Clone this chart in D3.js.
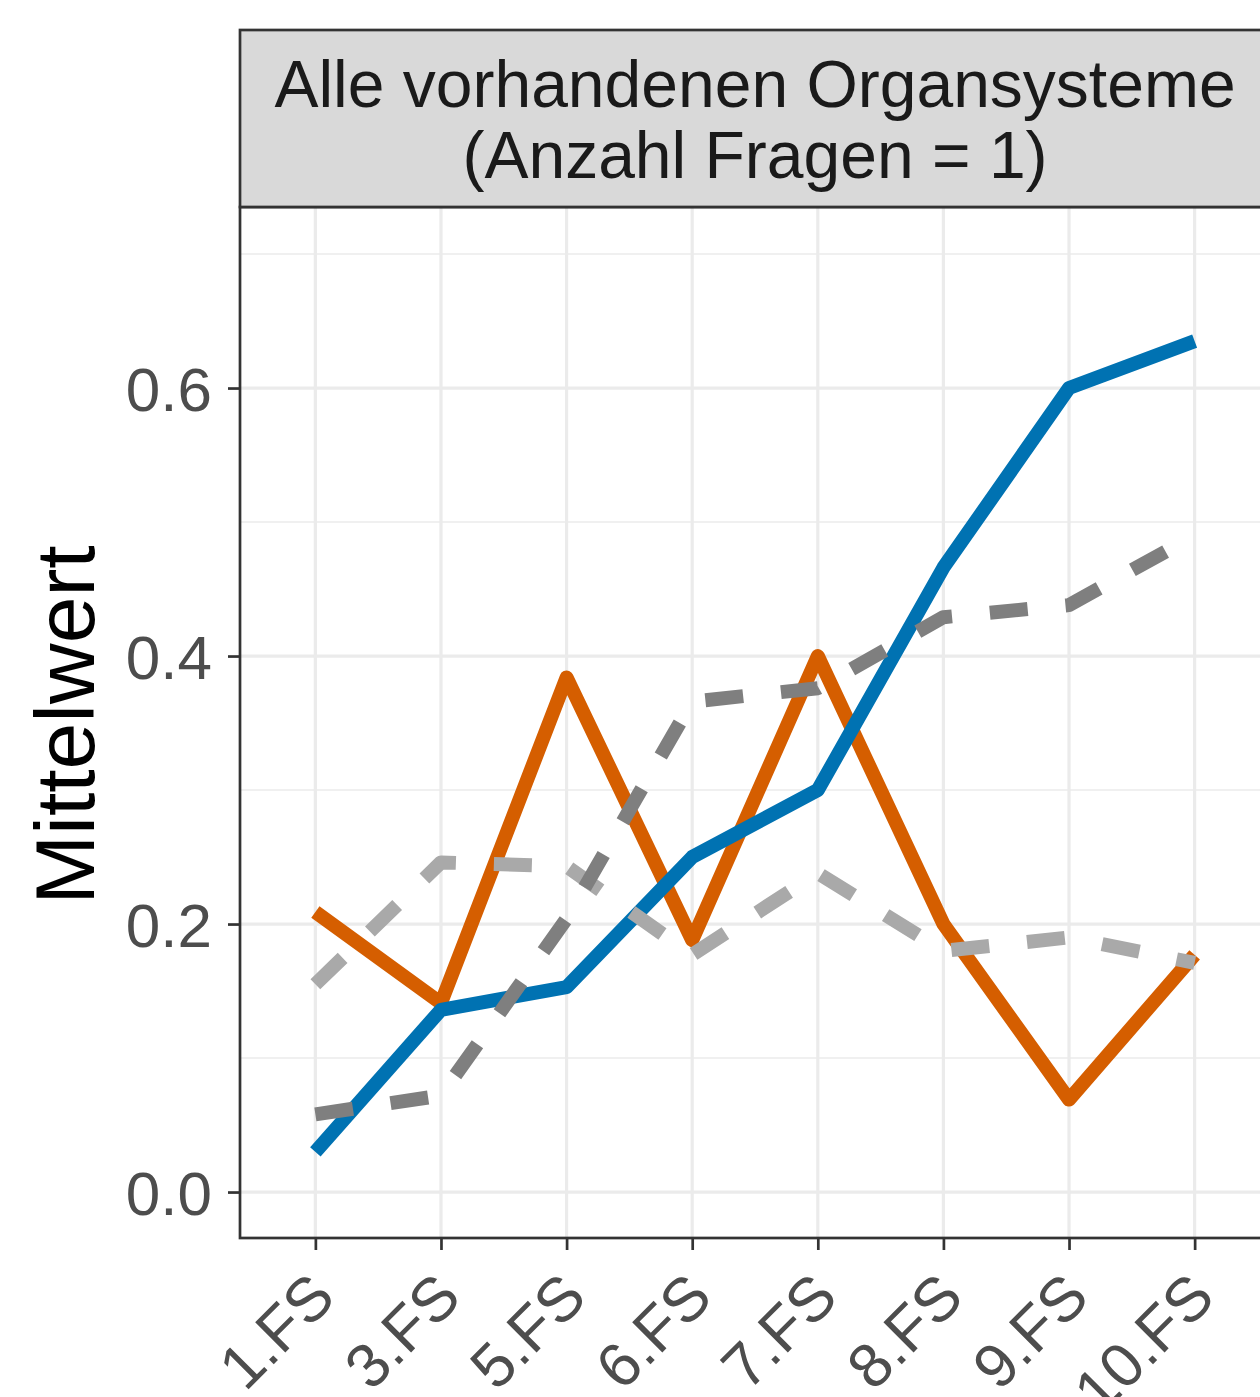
<!DOCTYPE html>
<html>
<head>
<meta charset="utf-8">
<script src="https://cdn.jsdelivr.net/npm/d3@7"></script>
<style>
    body { margin: 0; background: #ffffff; }
    svg { display: block; }
</style>
</head>
<body>
<div id="chart"></div>
<script>

    // categories (Fachsemester) and tick labels
    var semester = ['1.FS', '3.FS', '5.FS', '6.FS', '7.FS', '8.FS', '9.FS', '10.FS']
    var yTicks = [0, 0.2, 0.4, 0.6]
    var yMinor = [0.1, 0.3, 0.5, 0.7]

    // series values
    var orangeValues = [0.209, 0.141, 0.384, 0.188, 0.400, 0.200, 0.069, 0.177]
    var blueValues = [0.030, 0.136, 0.153, 0.250, 0.300, 0.466, 0.600, 0.635]
    var lightGreyValues = [0.155, 0.246, 0.243, 0.177, 0.238, 0.180, 0.190, 0.171]
    var darkGreyValues = [0.058, 0.072, 0.204, 0.366, 0.376, 0.429, 0.438, 0.490]

    var stripTitle = ['Alle vorhandenen Organsysteme', '(Anzahl Fragen = 1)']
    var yTitle = 'Mittelwert'

    var series = [
        {name: 'orange', values: orangeValues, color: '#D55E00', dash: null},
        {name: 'blue', values: blueValues, color: '#0072B2', dash: null},
        {name: 'lightgrey', values: lightGreyValues, color: '#A9A9A9', dash: '38,38'},
        {name: 'darkgrey', values: darkGreyValues, color: '#7F7F7F', dash: '38,38'}
    ]

    var width = 1260, height = 1397
    var font = "'Liberation Sans', Arial, sans-serif"

    // panel box (right edge runs a bit past the picture, like the original)
    var panel = {left: 240, right: 1270, top: 207, bottom: 1238}
    var stripTop = 30

    var svg = d3.select('#chart')
        .append('svg')
            .attr('width', width)
            .attr('height', height)

    var x = d3.scalePoint()
        .domain(semester)
        .range([panel.left, panel.right])
        .padding(0.6)

    var y = d3.scaleLinear()
        .domain([-0.0343, 0.7351])
        .range([panel.bottom, panel.top])

    // panel background
    svg.append('rect')
        .attr('x', panel.left)
        .attr('y', panel.top)
        .attr('width', panel.right - panel.left)
        .attr('height', panel.bottom - panel.top)
        .attr('fill', '#ffffff')

    // minor grid
    svg.selectAll('.minor')
        .data(yMinor)
        .enter()
        .append('line')
            .attr('x1', panel.left)
            .attr('x2', panel.right)
            .attr('y1', function(d) { return y(d) })
            .attr('y2', function(d) { return y(d) })
            .attr('stroke', '#EBEBEB')
            .attr('stroke-width', 1.6)

    // major grid
    svg.selectAll('.major')
        .data(yTicks)
        .enter()
        .append('line')
            .attr('x1', panel.left)
            .attr('x2', panel.right)
            .attr('y1', function(d) { return y(d) })
            .attr('y2', function(d) { return y(d) })
            .attr('stroke', '#EBEBEB')
            .attr('stroke-width', 3.2)

    svg.selectAll('.vgrid')
        .data(semester)
        .enter()
        .append('line')
            .attr('x1', function(d) { return x(d) })
            .attr('x2', function(d) { return x(d) })
            .attr('y1', panel.top)
            .attr('y2', panel.bottom)
            .attr('stroke', '#EBEBEB')
            .attr('stroke-width', 3.2)

    // lines
    var line = d3.line()
        .x(function(d, i) { return x(semester[i]) })
        .y(function(d) { return y(d) })

    series.forEach(function(s) {
        svg.append('path')
            .datum(s.values)
            .attr('d', line)
            .attr('fill', 'none')
            .attr('stroke', s.color)
            .attr('stroke-width', 14)
            .attr('stroke-linejoin', 'round')
            .attr('stroke-linecap', 'butt')
            .attr('stroke-dasharray', s.dash)
    })

    // panel border
    svg.append('rect')
        .attr('x', panel.left)
        .attr('y', panel.top)
        .attr('width', panel.right - panel.left)
        .attr('height', panel.bottom - panel.top)
        .attr('fill', 'none')
        .attr('stroke', '#333333')
        .attr('stroke-width', 2.7)

    // strip on top
    svg.append('rect')
        .attr('x', panel.left)
        .attr('y', stripTop)
        .attr('width', panel.right - panel.left)
        .attr('height', panel.top - stripTop)
        .attr('fill', '#D9D9D9')
        .attr('stroke', '#333333')
        .attr('stroke-width', 2.7)

    svg.selectAll('.strip')
        .data(stripTitle)
        .enter()
        .append('text')
            .attr('x', (panel.left + panel.right) / 2)
            .attr('y', function(d, i) { return 107 + i * 71 })
            .attr('text-anchor', 'middle')
            .attr('font-family', font)
            .attr('font-size', 66)
            .attr('fill', '#1A1A1A')
            .text(function(d) { return d })

    // y axis
    var yAxis = svg.append('g')
        .attr('transform', 'translate(' + panel.left + ',0)')
        .call(d3.axisLeft(y).tickValues(yTicks).tickSize(12).tickPadding(16)
            .tickFormat(d3.format('.1f')))
    yAxis.select('.domain').remove()
    yAxis.selectAll('.tick line').attr('stroke', '#333333').attr('stroke-width', 2.7)
    yAxis.selectAll('.tick text')
        .attr('font-family', font)
        .attr('font-size', 62)
        .attr('fill', '#4D4D4D')
        .attr('dy', '0.37em')

    // x axis
    var xAxis = svg.append('g')
        .attr('transform', 'translate(0,' + panel.bottom + ')')
        .call(d3.axisBottom(x).tickSize(12))
    xAxis.select('.domain').remove()
    xAxis.selectAll('.tick line').attr('stroke', '#333333').attr('stroke-width', 2.7)
    xAxis.selectAll('.tick text')
        .attr('font-family', font)
        .attr('font-size', 62)
        .attr('fill', '#4D4D4D')
        .attr('text-anchor', 'end')
        .attr('y', 0)
        .attr('dy', 0)
        .attr('transform', 'translate(22,62) rotate(-45)')

    // y title
    svg.append('text')
        .attr('transform', 'translate(94,725) rotate(-90)')
        .attr('text-anchor', 'middle')
        .attr('font-family', font)
        .attr('font-size', 84)
        .attr('fill', '#000000')
        .text(yTitle)

</script>
</body>
</html>
